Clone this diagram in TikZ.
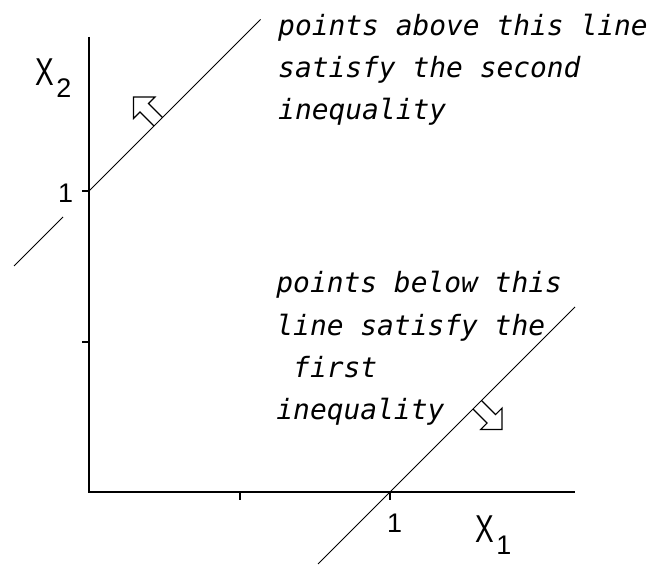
\documentclass[tikz,border=0pt]{standalone}
\usepackage{fontspec}
\setmainfont{Liberation Sans}
\newfontfamily\notefont{DejaVu Sans Mono}
\usepackage{graphicx}
\usepackage{tikz}
\tikzset{every node/.append style={inner sep=0pt, font=\fontsize{27}{30}\selectfont}}
\tikzset{note/.style={align=left, anchor=base west, font=\notefont\itshape\fontsize{28}{42.5}\selectfont}}
\newcommand{\axlabel}[1]{{\fontsize{39}{39}\selectfont\scalebox{0.72}[1]{X}}\hspace{2.5bp}\raisebox{-12bp}{#1}}

\begin{document}
\begin{tikzpicture}[x=301bp, y=301bp]
    \useasboundingbox (-0.2957,-0.2425) rectangle (1.8538,1.6346);
    \coordinate (O) at (0,0);
    \coordinate (ytop) at (0,1.512);
    \coordinate (xend) at (1.615,0);
    \draw[line width=2.2bp] (ytop) -- (O) -- (xend);
    \foreach \t in {0.5,1} {
        \draw[line width=2bp] (\t,0) -- (\t,-0.027);
        \draw[line width=2bp] (0,\t) -- (-0.023,\t);
    }
    % the two boundary lines x2 = x1 + 1 and x2 = x1 - 1
    \draw[line width=1bp] (0,1) -- (0.57,1.57);
    \draw[line width=1bp] (-0.086,0.914) -- (-0.249,0.751);
    \draw[line width=1bp] (0.761,-0.239) -- (1.615,0.615);
    \foreach \px/\py/\a in {0.23/1.23/135, 1.29/0.29/-45} {
        \draw[line width=1.2bp, shift={(\px,\py)}, rotate=\a] (0,-0.02) -- (0.066,-0.02) -- (0.066,-0.05)
            -- (0.116,0) -- (0.066,0.05) -- (0.066,0.02) -- (0,0.02);
    }
    \node[anchor=base west] (xtwo) at (-0.179,1.352) {\axlabel{2}};
    \node[anchor=base west] (xone) at (1.282,-0.169) {\axlabel{1}};
    \node[anchor=base west] (onex) at (0.990,-0.136) {1};
    \node[anchor=base west] (oney) at (-0.103,0.963) {1};
    % base anchor sits on the last line
    \node[note] (upnote) at (0.628,1.236) {points above this line\\satisfy the second\\inequality};
    \node[note] (lownote) at (0.622,0.240) {points below this\\line satisfy the\\\hspace*{16.8bp}first\\inequality};
\end{tikzpicture}
\end{document}
